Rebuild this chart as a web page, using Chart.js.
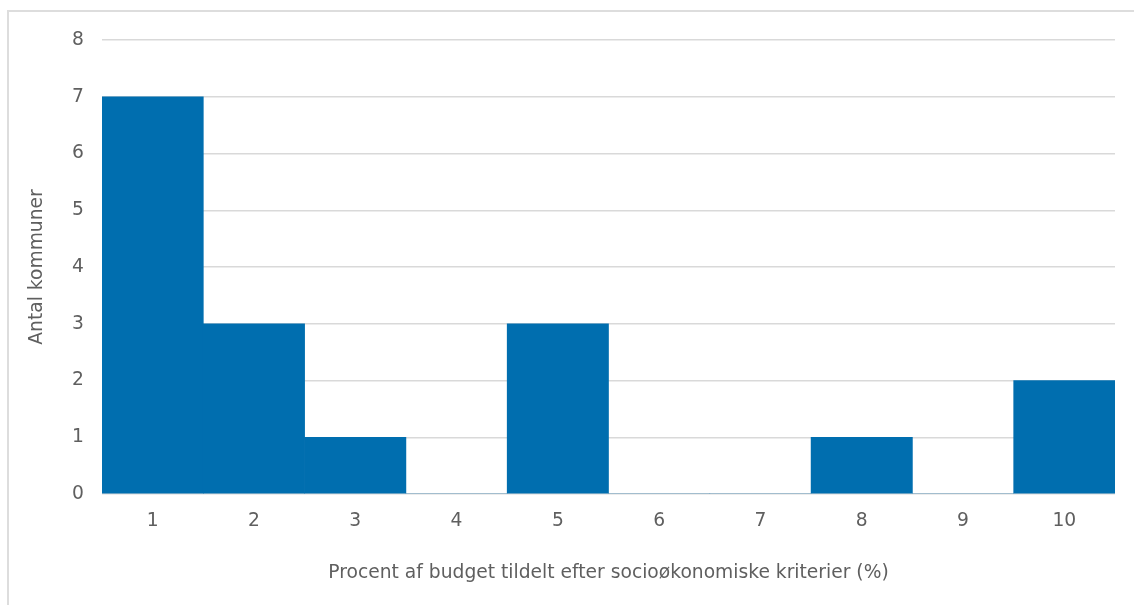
<!DOCTYPE html>
<html>
<head>
<meta charset="utf-8">
<script src="https://cdn.jsdelivr.net/npm/chart.js@4"></script>
<style>
  html, body { margin: 0; padding: 0; background: #fff; }
  #wrap { position: relative; width: 1134px; height: 605px; }
  #frame {
    position: absolute; left: 7px; top: 10px; right: 0; bottom: 0;
    border-left: 2px solid #dddddd; border-top: 2px solid #dddddd;
  }
  canvas { position: absolute; left: 0; top: 0; }
</style>
</head>
<body>
<div id="wrap">
  <div id="frame"></div>
  <canvas id="chart" width="1134" height="605"></canvas>
</div>
<script>
// values
const categories = ["1", "2", "3", "4", "5", "6", "7", "8", "9", "10"]
const counts = [7, 3, 1, 0, 3, 0, 0, 1, 0, 2]
const yTicks = [0, 1, 2, 3, 4, 5, 6, 7, 8]

const xTitle = "Procent af budget tildelt efter socioøkonomiske kriterier (%)"
const yTitle = "Antal kommuner"

const barColor = "#006eaf"
const gridColor = "#d9d9d9"
const textColor = "#5f5f5f"
const font = { family: "DejaVu Sans", size: 18.7 }

new Chart(document.getElementById("chart"), {
  type: "bar",
  data: {
    labels: categories,
    datasets: [{
      label: yTitle,
      data: counts,
      backgroundColor: barColor,
      borderWidth: 0,
      barPercentage: 1,
      categoryPercentage: 1
    }]
  },
  options: {
    responsive: false,
    animation: false,
    layout: { padding: { top: 40, right: 19, bottom: 0, left: 0 } },
    plugins: { legend: { display: false }, tooltip: { enabled: false } },
    scales: {
      x: {
        grid: { display: false, drawTicks: false },
        border: { display: false },
        ticks: { color: textColor, font: font, padding: 16 },
        title: {
          display: true, text: xTitle, color: textColor, font: font,
          padding: { top: 0, bottom: 21 }
        },
        afterFit: s => { s.height = 111 }
      },
      y: {
        min: 0,
        max: yTicks[yTicks.length - 1],
        grid: { color: gridColor, lineWidth: 1.5, drawTicks: false },
        border: { display: false },
        ticks: { stepSize: 1, color: textColor, font: font, padding: 18 },
        title: {
          display: true, text: yTitle, color: textColor, font: font,
          padding: { top: 26, bottom: 0 }
        },
        afterFit: s => { s.width = 102 }
      }
    }
  }
})
</script>
</body>
</html>
